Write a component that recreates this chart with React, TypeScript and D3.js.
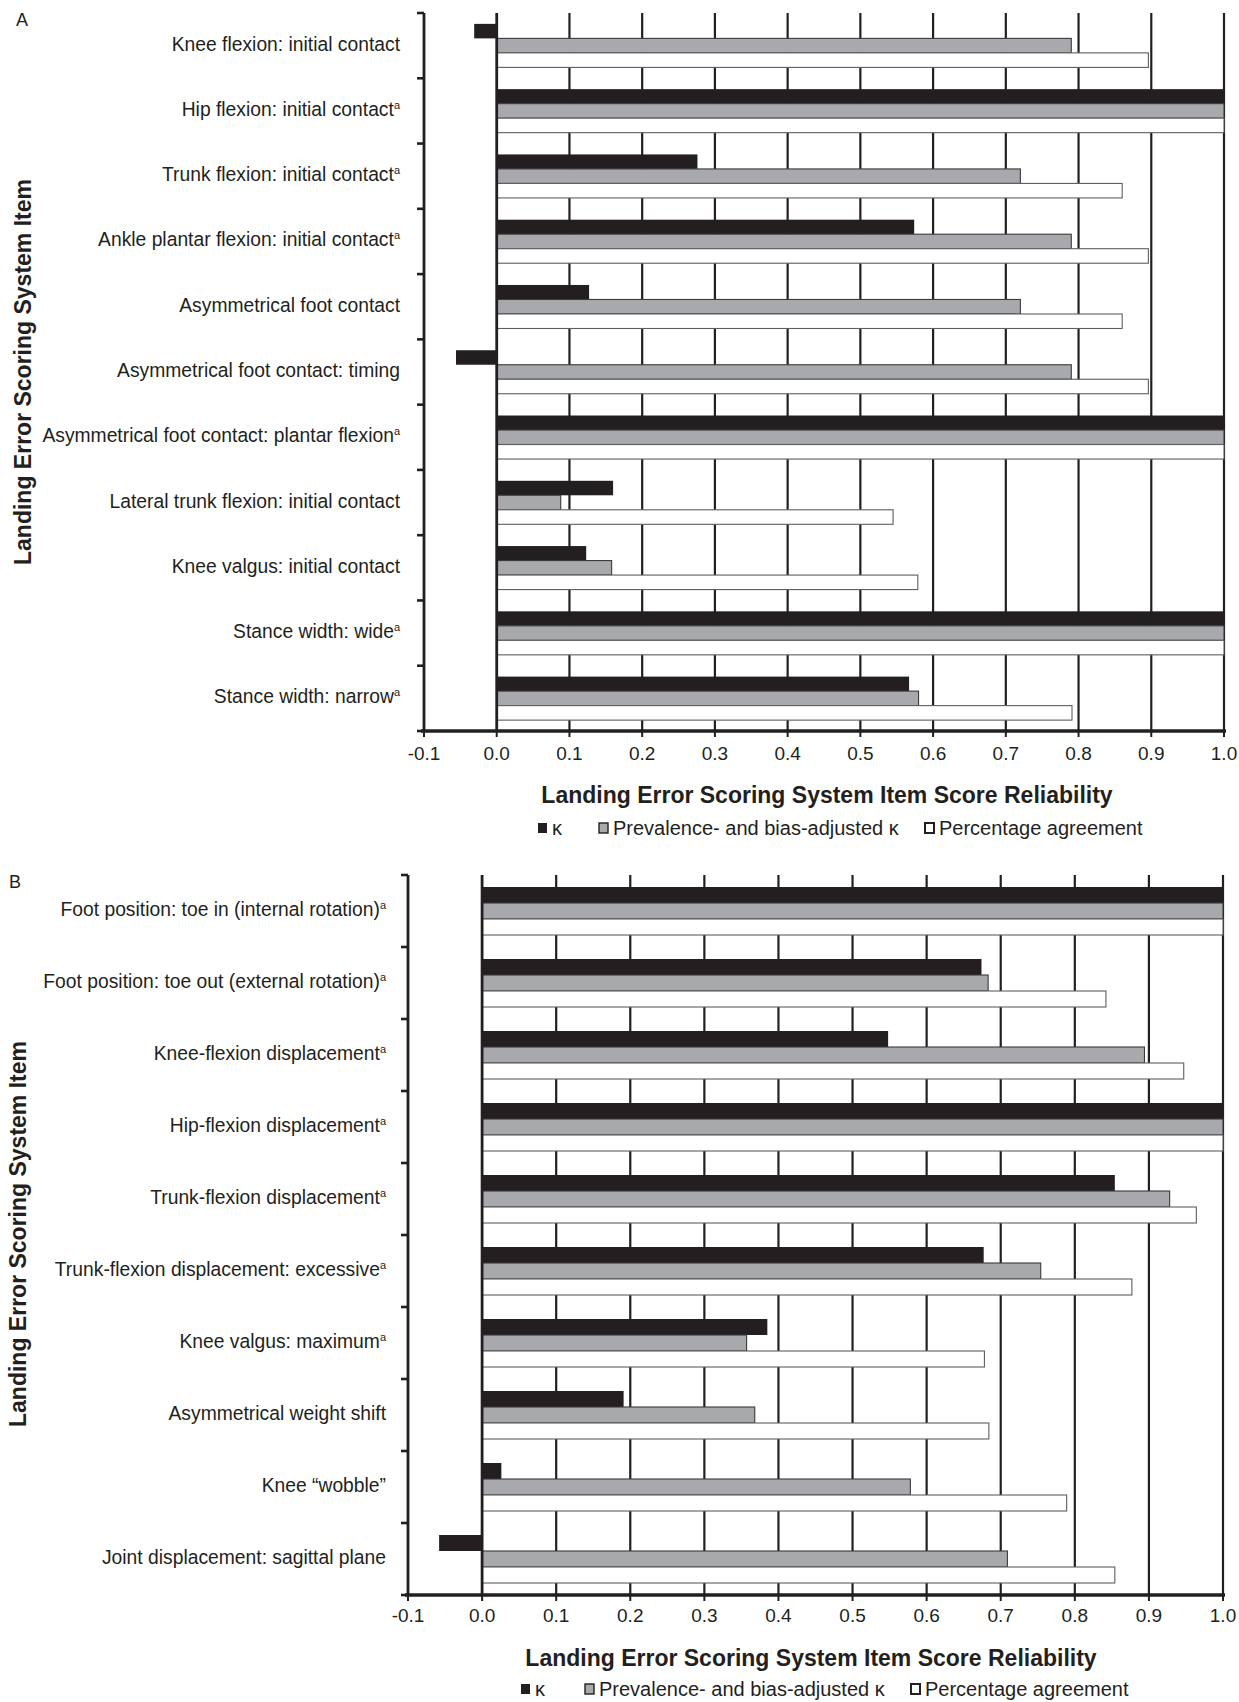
import React from "react";
import * as d3 from "d3";

// ---------- data ----------
const seriesNames = ["κ", "Prevalence- and bias-adjusted κ", "Percentage agreement"];
const tickValues = [-0.1, 0, 0.1, 0.2, 0.3, 0.4, 0.5, 0.6, 0.7, 0.8, 0.9, 1.0];
const tickLabels = ["-0.1", "0.0", "0.1", "0.2", "0.3", "0.4", "0.5", "0.6", "0.7", "0.8", "0.9", "1.0"];
const xTitle = "Landing Error Scoring System Item Score Reliability";
const yTitle = "Landing Error Scoring System Item";

const categoriesA = [
  "Knee flexion: initial contact",
  "Hip flexion: initial contact",
  "Trunk flexion: initial contact",
  "Ankle plantar flexion: initial contact",
  "Asymmetrical foot contact",
  "Asymmetrical foot contact: timing",
  "Asymmetrical foot contact: plantar flexion",
  "Lateral trunk flexion: initial contact",
  "Knee valgus: initial contact",
  "Stance width: wide",
  "Stance width: narrow",
];
const footnoteA = [false, true, true, true, false, false, true, false, false, true, true];
const kappaA = [-0.031, 1, 0.276, 0.574, 0.127, -0.056, 1, 0.16, 0.123, 1, 0.567];
const pabakA = [0.79, 1, 0.72, 0.79, 0.72, 0.79, 1, 0.088, 0.158, 1, 0.58];
const percentA = [0.896, 1, 0.86, 0.896, 0.86, 0.896, 1, 0.545, 0.579, 1, 0.791];

const categoriesB = [
  "Foot position: toe in (internal rotation)",
  "Foot position: toe out (external rotation)",
  "Knee-flexion displacement",
  "Hip-flexion displacement",
  "Trunk-flexion displacement",
  "Trunk-flexion displacement: excessive",
  "Knee valgus: maximum",
  "Asymmetrical weight shift",
  "Knee \u201cwobble\u201d",
  "Joint displacement: sagittal plane",
];
const footnoteB = [true, true, true, true, true, true, true, false, false, false];
const kappaB = [1, 0.674, 0.548, 1, 0.854, 0.677, 0.385, 0.191, 0.026, -0.058];
const pabakB = [1, 0.683, 0.894, 1, 0.928, 0.754, 0.357, 0.368, 0.578, 0.709];
const percentB = [1, 0.842, 0.947, 1, 0.964, 0.877, 0.678, 0.684, 0.789, 0.854];

// ---------- style ----------
const INK = "#231f20";
const SANS = "'Liberation Sans', Arial, Helvetica, sans-serif";
const NARROW = "'Liberation Sans Narrow', 'Arial Narrow', sans-serif";
const FILLS = [INK, "#a7a9ac", "#ffffff"];
const STROKES = ["none", "#3a3a3a", "#5e5e5e"];

type PanelProps = {
  letter: string;
  letterX: number;
  letterY: number;
  categories: string[];
  footnotes: boolean[];
  values: number[][];
  top: number;
  bottom: number;
  x0: number;
  x1: number;
  labelRight: number;
  tickY: number;
  titleX: number;
  titleY: number;
  legendY: number;
  legendXs: number[];
  yTitleX: number;
  yTitleY: number;
};

function Panel(p: PanelProps) {
  const x = d3.scaleLinear().domain([-0.1, 1.0]).range([p.x0, p.x1]);
  const y = d3.scaleBand<string>().domain(p.categories).range([p.top, p.bottom]);
  const bw = y.bandwidth();
  const inner = d3
    .scaleBand<string>()
    .domain(["0", "1", "2"])
    .range([0, bw])
    .paddingInner(0)
    .paddingOuter(0.75);
  const bh = inner.bandwidth();
  const boundaries = d3.range(p.categories.length + 1).map((i) => p.top + i * y.step());

  return (
    <g>
      <text x={p.letterX} y={p.letterY} fontFamily={SANS} fontSize={18} fill={INK}>
        {p.letter}
      </text>

      {/* gridlines */}
      {tickValues
        .filter((v) => v > 0.001)
        .map((v) => (
          <line key={"g" + v} x1={x(v)} x2={x(v)} y1={p.top} y2={p.bottom} stroke={INK} strokeWidth={2.2} />
        ))}

      {/* bars */}
      {p.values.map((series, s) =>
        series.map((v, i) => {
          const xa = x(Math.min(0, v));
          const xb = x(Math.max(0, v));
          return (
            <rect
              key={"b" + s + "-" + i}
              x={xa}
              y={(y(p.categories[i]) as number) + (inner(String(s)) as number)}
              width={xb - xa}
              height={bh}
              fill={FILLS[s]}
              stroke={STROKES[s]}
              strokeWidth={s === 0 ? 0 : 1.1}
            />
          );
        })
      )}

      {/* zero line */}
      <line x1={x(0)} x2={x(0)} y1={p.top} y2={p.bottom} stroke={INK} strokeWidth={2.8} />

      {/* y axis */}
      <line x1={p.x0} x2={p.x0} y1={p.top} y2={p.bottom + 1} stroke={INK} strokeWidth={2.8} />
      {boundaries.map((b, i) => (
        <line key={"yt" + i} x1={p.x0 - 7} x2={p.x0} y1={b} y2={b} stroke={INK} strokeWidth={2.6} />
      ))}

      {/* x axis */}
      <line x1={p.x0 - 3} x2={p.x1 + 2} y1={p.bottom} y2={p.bottom} stroke={INK} strokeWidth={3.5} />
      {tickValues.map((v, i) => (
        <g key={"xt" + i}>
          <line x1={x(v)} x2={x(v)} y1={p.bottom} y2={p.bottom + 6} stroke={INK} strokeWidth={2} />
          <text
            x={x(v)}
            y={p.tickY + 7}
            textAnchor="middle"
            fontFamily={NARROW}
            fontSize={19}
            fill={INK}
          >
            {tickLabels[i]}
          </text>
        </g>
      ))}

      {/* category labels */}
      {p.categories.map((c, i) => (
        <text
          key={"c" + i}
          x={p.labelRight}
          y={(y(c) as number) + bw / 2 + 5}
          textAnchor="end"
          fontFamily={SANS}
          fontSize={19.3}
          fill={INK}
        >
          {c}
          {p.footnotes[i] ? (
            <tspan fontSize={11} dy={-7}>
              a
            </tspan>
          ) : null}
        </text>
      ))}

      {/* y title */}
      <text
        transform={`translate(${p.yTitleX},${p.yTitleY}) rotate(-90)`}
        textAnchor="middle"
        fontFamily={SANS}
        fontWeight="bold"
        fontSize={23}
        fill={INK}
      >
        {yTitle}
      </text>

      {/* x title */}
      <text
        x={p.titleX}
        y={p.titleY + 8}
        textAnchor="middle"
        fontFamily={NARROW}
        fontWeight="bold"
        fontSize={23}
        fill={INK}
      >
        {xTitle}
      </text>

      {/* legend */}
      {seriesNames.map((name, s) => (
        <g key={"l" + s}>
          <rect
            x={p.legendXs[s]}
            y={p.legendY - 5}
            width={9}
            height={10}
            fill={FILLS[s]}
            stroke={s === 0 ? "none" : INK}
            strokeWidth={s === 2 ? 2 : 1.4}
          />
          <text
            x={p.legendXs[s] + 14}
            y={p.legendY + 7}
            fontFamily={NARROW}
            fontSize={20}
            fill={INK}
          >
            {name}
          </text>
        </g>
      ))}
    </g>
  );
}

export default function App() {
  return (
    <svg
      width={1239}
      height={1702}
      viewBox="0 0 1239 1702"
      style={{ position: "absolute", left: 0, top: 0, background: "#fff" }}
    >
      <rect x={0} y={0} width={1239} height={1702} fill="#fff" />
      <Panel
        letter="A"
        letterX={16}
        letterY={26}
        categories={categoriesA}
        footnotes={footnoteA}
        values={[kappaA, pabakA, percentA]}
        top={13}
        bottom={731}
        x0={424}
        x1={1224}
        labelRight={400}
        tickY={753}
        titleX={827}
        titleY={795}
        legendY={828}
        legendXs={[538, 599, 925]}
        yTitleX={31}
        yTitleY={372}
      />
      <Panel
        letter="B"
        letterX={9}
        letterY={888}
        categories={categoriesB}
        footnotes={footnoteB}
        values={[kappaB, pabakB, percentB]}
        top={875}
        bottom={1595}
        x0={408}
        x1={1223}
        labelRight={386}
        tickY={1615}
        titleX={811}
        titleY={1658}
        legendY={1689}
        legendXs={[521, 585, 911]}
        yTitleX={26}
        yTitleY={1234}
      />
    </svg>
  );
}
